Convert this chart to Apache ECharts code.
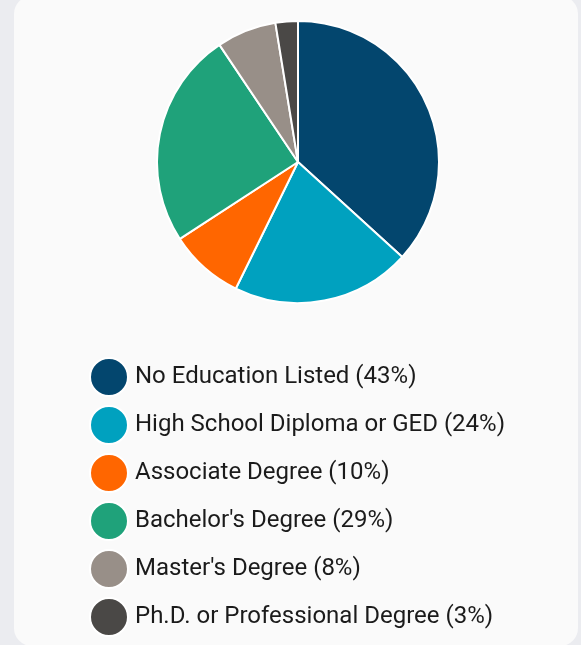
<!DOCTYPE html>
<html>
<head>
<meta charset="utf-8">
<script src="https://cdn.jsdelivr.net/npm/echarts@6/dist/echarts.min.js"></script>
<style>
    html, body { margin: 0; padding: 0; width: 581px; height: 645px; background: #ebecf0; overflow: hidden; }
    #card { position: absolute; left: 14px; top: -4px; width: 564px; height: 650px; background: #fafafa; border-radius: 18px; }
    #chart { position: absolute; left: 0; top: 0; width: 581px; height: 645px; }
</style>
</head>
<body>
<div id="card"></div>
<div id="chart"></div>
<script>
    // education levels and their shares
    var categories = ["No Education Listed", "High School Diploma or GED", "Associate Degree", "Bachelor's Degree", "Master's Degree", "Ph.D. or Professional Degree"];
    var values = [43, 24, 10, 29, 8, 3];
    var colors = ["#03466e", "#00a1bf", "#ff6600", "#1fa27a", "#988f88", "#4a4846"];

    var pieData = [];
    for (var i = 0; i < categories.length; i++) {
        pieData.push({ name: categories[i], value: values[i], itemStyle: { color: colors[i] } });
    }

    var myChart = echarts.init(document.getElementById("chart"));
    var option = {
        animation: false,
        legend: {
            orient: 'vertical',
            left: 89,
            top: 357,
            height: 288,
            padding: 0,
            icon: 'circle',
            itemWidth: 38,
            itemHeight: 38,
            itemGap: 8,
            textStyle: {
                fontFamily: 'Roboto',
                fontSize: 24,
                lineHeight: 38,
                color: '#1b1b1b',
                padding: [0, 0, 0, 2]
            },
            formatter: function (name) {
                var idx = categories.indexOf(name);
                return name + ' (' + values[idx] + '%)';
            },
            data: categories
        },
        series: [
            {
                type: 'pie',
                center: [298, 162],
                radius: 141,
                startAngle: 90,
                clockwise: true,
                label: { show: false },
                labelLine: { show: false },
                itemStyle: { borderColor: '#ffffff', borderWidth: 2 },
                emphasis: { disabled: true },
                data: pieData
            }
        ]
    };
    myChart.setOption(option);
</script>
</body>
</html>
